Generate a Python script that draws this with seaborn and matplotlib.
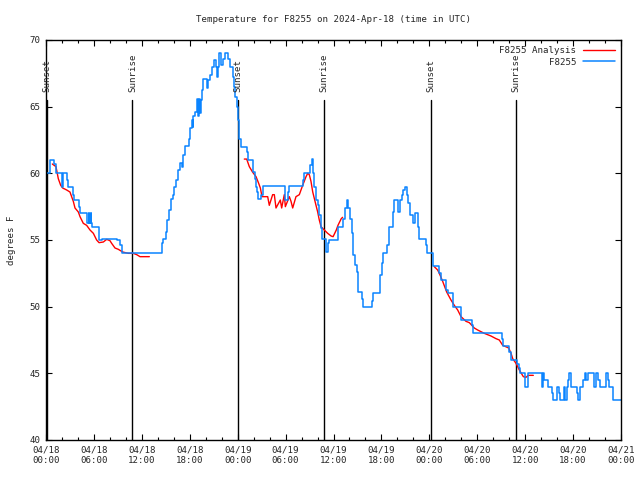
import matplotlib
matplotlib.use("Agg")
import matplotlib.pyplot as plt
import numpy as np
import pandas as pd
import seaborn as sns

# hours since 04/18 00:00 UTC
STATION_HOURS = [
    0.16, 0.5, 1.0, 1.25, 1.97, 2.09, 2.59, 2.79, 3.34, 3.54, 4.13, 4.26, 5.1, 5.35,
    5.42, 5.6, 5.67, 5.72, 6.6, 7.01, 8.85, 9.27, 9.52,
    14.49, 14.69, 15.03, 15.19, 15.44, 15.65, 15.94, 16.07, 16.28, 16.57, 16.78,
    16.99, 17.11, 17.19, 17.41, 17.95, 18.03, 18.24, 18.37, 18.45, 18.66, 18.87,
    19.0, 19.12, 19.28, 19.41, 19.49, 19.7, 20.12, 20.32, 20.54, 20.75, 21.04,
    21.29, 21.41, 21.54, 21.66, 21.91, 22.2, 22.41, 22.83, 23.04, 23.38, 23.54,
    23.67, 23.88, 24.0, 24.17,
    24.21, 24.42, 25.13, 25.34, 25.96, 26.17, 26.3, 26.38, 26.51, 26.92, 27.13,
    29.97, 30.26, 30.47, 32.14, 32.35, 33.06, 33.31, 33.47, 33.6, 33.81, 34.02,
    34.22, 34.44, 34.56, 35.06, 35.27, 35.48,
    36.56, 37.23, 37.44, 37.65, 37.85, 38.07, 38.28, 38.48, 38.69, 38.9, 39.11,
    39.53, 39.73, 40.78, 40.99, 41.82, 42.04, 42.24, 42.66, 42.99, 43.41, 43.58,
    44.12, 44.33, 44.54, 44.74, 44.95, 45.17, 45.37, 45.58, 45.91, 46.21, 46.62,
    46.75, 47.58, 47.75,
    48.42, 49.25, 49.46, 50.09, 50.3, 50.92, 51.97, 53.3, 53.43, 57.1, 57.27,
    58.02, 58.23, 58.94, 59.19,
    59.35, 59.98, 60.4, 62.07, 62.27, 62.4, 62.9, 63.32, 63.53, 63.95, 64.28,
    64.36, 64.86, 64.99, 65.28, 65.4, 65.53, 65.7, 66.53, 66.66, 66.87, 67.28,
    67.5, 67.62, 67.91, 68.62, 68.87, 69.08, 69.37, 70.12, 70.33, 70.54, 70.96,
    72.0,
]
STATION_TEMP = [
    60, 61, 60.7, 60, 59, 60, 59.5, 59, 58.4, 58, 57.5, 57, 56.3, 57,
    56.3, 57, 56.3, 56, 55, 55.1, 55, 54.6, 54,
    54.75, 55.05, 55.6, 56.5, 57.25, 58.05, 58.4, 59.0, 59.5, 60.25, 60.75,
    60.5, 60.75, 61.4, 62.05, 62.6, 63.4, 64, 63.5, 64.3, 64.6, 65.55,
    64.3, 65.55, 64.5, 65.5, 66.25, 67.05, 66.4, 67.0, 67.4, 68.0, 68.5,
    68.0, 67.2, 68.0, 69.05, 68.1, 68.6, 69.05, 68.6, 68.0, 67.2, 66.5,
    65.75, 65.0, 64.0, 63.2,
    62.6, 62.0, 61.6, 61.0, 60.1, 59.6, 59.0, 58.6, 58.05, 58.4, 59.05,
    58.0, 58.6, 59.05, 59.5, 60.0, 60.6, 61.1, 60.0, 59.0, 58.0, 57.6,
    56.9, 55.9, 55.05, 54.1, 54.75, 55.0,
    56.0, 56.6, 57.4, 58.0, 57.4, 56.6, 55.5, 53.9, 53.1, 52.6, 51.1,
    50.6, 50.0, 50.4, 51.0, 52.4, 53.25, 54.0, 54.6, 56.0, 57.1, 58.0,
    57.1, 58.0, 58.4, 58.75, 59.0, 58.4, 57.75, 56.9, 56.25, 57.0, 56.0,
    55.1, 54.6, 54.0,
    53.05, 52.5, 52.0, 51.25, 51.0, 50.0, 49.0, 48.6, 48.0, 47.6, 47.05,
    46.6, 46.0, 45.7, 45.4,
    45.0, 44.0, 45.0, 44.0, 45.0, 44.5, 44.0, 43.5, 43.0, 44.0, 43.5,
    43.0, 44.0, 43.0, 44.0, 44.5, 45.0, 44.0, 43.5, 43.0, 44.0, 44.5,
    45.0, 44.5, 45.0, 44.0, 45.0, 44.5, 44.0, 45.0, 44.5, 44.0, 43.0,
    43.0,
]

# analysis runs, one list per night
ANALYSIS_HOURS = [
    [0.79, 1.25, 1.54, 1.84, 2.09, 2.59, 3.0, 3.21, 3.42, 3.63, 4.05, 4.26, 4.67,
     5.09, 5.51, 5.93, 6.34, 6.64, 7.18, 7.6, 8.01, 8.22, 8.64, 9.06, 9.6, 10.31,
     10.93, 11.36, 11.77, 12.94],
    [24.83, 25.13, 25.46, 25.88, 26.3, 26.63, 26.84, 27.05, 27.76, 27.96, 28.38,
     28.59, 28.8, 29.34, 29.51, 29.84, 29.97, 30.47, 30.68, 30.89, 31.3, 31.72,
     32.14, 32.56, 32.77, 32.97, 33.18, 33.4, 33.81, 34.02, 34.22, 34.44, 34.85,
     35.27, 35.7, 35.95, 36.35, 36.56, 36.97, 37.14],
    [48.62, 49.04, 49.25, 49.67, 50.17, 50.71, 51.13, 51.55, 51.97, 52.59, 53.01,
     53.63, 54.05, 54.88, 55.72, 56.35, 56.76, 57.19, 57.94, 58.23, 58.44, 58.85,
     59.27, 59.77, 60.1, 60.4, 61.02],
]
ANALYSIS_TEMP = [
    [60.7, 60.5, 59.6, 59.1, 58.9, 58.75, 58.6, 58.25, 57.9, 57.4, 57.1, 56.75,
     56.25, 56.1, 55.75, 55.5, 55.0, 54.8, 54.85, 55.05, 54.95, 54.75, 54.4, 54.3,
     54.1, 54.0, 54.0, 53.9, 53.75, 53.75],
    [61.07, 61.07, 60.5, 60.08, 59.75, 59.25, 58.9, 58.25, 58.25, 57.6, 58.4,
     58.4, 57.4, 58.0, 57.4, 58.4, 57.5, 58.25, 57.9, 57.4, 58.25, 58.4,
     59.1, 59.75, 60.0, 59.9, 59.4, 58.6, 57.6, 57.1, 56.5, 56.0, 55.75,
     55.5, 55.3, 55.25, 55.75, 56.1, 56.6, 56.7],
    [53.0, 52.75, 52.5, 51.9, 51.1, 50.5, 50.1, 49.75, 49.25, 48.9, 48.8,
     48.4, 48.25, 48.0, 47.8, 47.6, 47.5, 47.1, 46.9, 46.5, 46.1, 45.75,
     45.25, 44.75, 44.7, 44.85, 44.85],
]

SUN_EVENTS = ["Sunset", "Sunrise", "Sunset", "Sunrise", "Sunset", "Sunrise"]
SUN_HOURS = [0.1, 10.83, 24.08, 34.85, 48.17, 58.8]

X_TICKS = list(range(0, 73, 6))
X_TICK_LABELS = [
    "04/18\n00:00", "04/18\n06:00", "04/18\n12:00", "04/18\n18:00",
    "04/19\n00:00", "04/19\n06:00", "04/19\n12:00", "04/19\n18:00",
    "04/20\n00:00", "04/20\n06:00", "04/20\n12:00", "04/20\n18:00",
    "04/21\n00:00",
]
Y_TICKS = [40, 45, 50, 55, 60, 65, 70]

RED = "#ff0000"
BLUE = "#0a84ff"
FONT = "DejaVu Sans Mono"
FS = 6.6

sns.set_style("ticks")
plt.rcParams["font.family"] = [FONT]

station_df = pd.DataFrame({"hour": STATION_HOURS, "temp": STATION_TEMP})
analysis_df = pd.concat(
    [
        pd.DataFrame({"hour": h, "temp": t, "run": i})
        for i, (h, t) in enumerate(zip(ANALYSIS_HOURS, ANALYSIS_TEMP))
    ],
    ignore_index=True,
)

fig = plt.figure(figsize=(6.4, 4.8), dpi=100)
ax = fig.add_axes([46 / 640, 40 / 480, 575 / 640, 400 / 480])

sns.lineplot(
    data=analysis_df, x="hour", y="temp", units="run", estimator=None,
    color=RED, linewidth=1.0, ax=ax, label="F8255 Analysis",
)
sns.lineplot(
    data=station_df, x="hour", y="temp", color=BLUE, linewidth=1.1,
    drawstyle="steps-post", ax=ax, label="F8255",
)

# sunrise / sunset markers
for name, h in zip(SUN_EVENTS, SUN_HOURS):
    ax.plot([h, h], [40, 65.5], color="black", linewidth=1.0, zorder=1)
    ax.text(h, 66.1, name, rotation=90, ha="center", va="bottom",
            fontsize=FS, family=FONT)

ax.set_xlim(0, 72)
ax.set_ylim(40, 70)
ax.set_xticks(X_TICKS)
ax.set_xticklabels(X_TICK_LABELS, fontsize=FS, family=FONT)
ax.set_xticks(np.arange(0, 73, 2), minor=True)
ax.set_yticks(Y_TICKS)
ax.set_yticklabels([str(v) for v in Y_TICKS], fontsize=FS, family=FONT)
ax.tick_params(axis="both", which="both", direction="in", top=True, right=True,
               width=0.8, color="black")
ax.tick_params(axis="both", which="major", length=4, pad=4)
ax.tick_params(axis="both", which="minor", length=2.2)
for sp in ax.spines.values():
    sp.set_linewidth(1.0)
    sp.set_color("black")

ax.set_xlabel("")
ax.set_ylabel("degrees F", fontsize=FS, family=FONT, labelpad=10)
ax.set_title("Temperature for F8255 on 2024-Apr-18 (time in UTC)",
             fontsize=FS, family=FONT, pad=13)

# one legend entry per series
handles, labels = ax.get_legend_handles_labels()
seen = {}
for hd, lb in zip(handles, labels):
    seen.setdefault(lb, hd)
ax.legend(list(seen.values()), list(seen.keys()), loc="upper right",
          frameon=False, markerfirst=False,
          prop={"family": FONT, "size": FS}, handlelength=3.4,
          borderaxespad=0.3, labelspacing=0.25, handletextpad=0.8)

fig.savefig("out.png", dpi=100)
